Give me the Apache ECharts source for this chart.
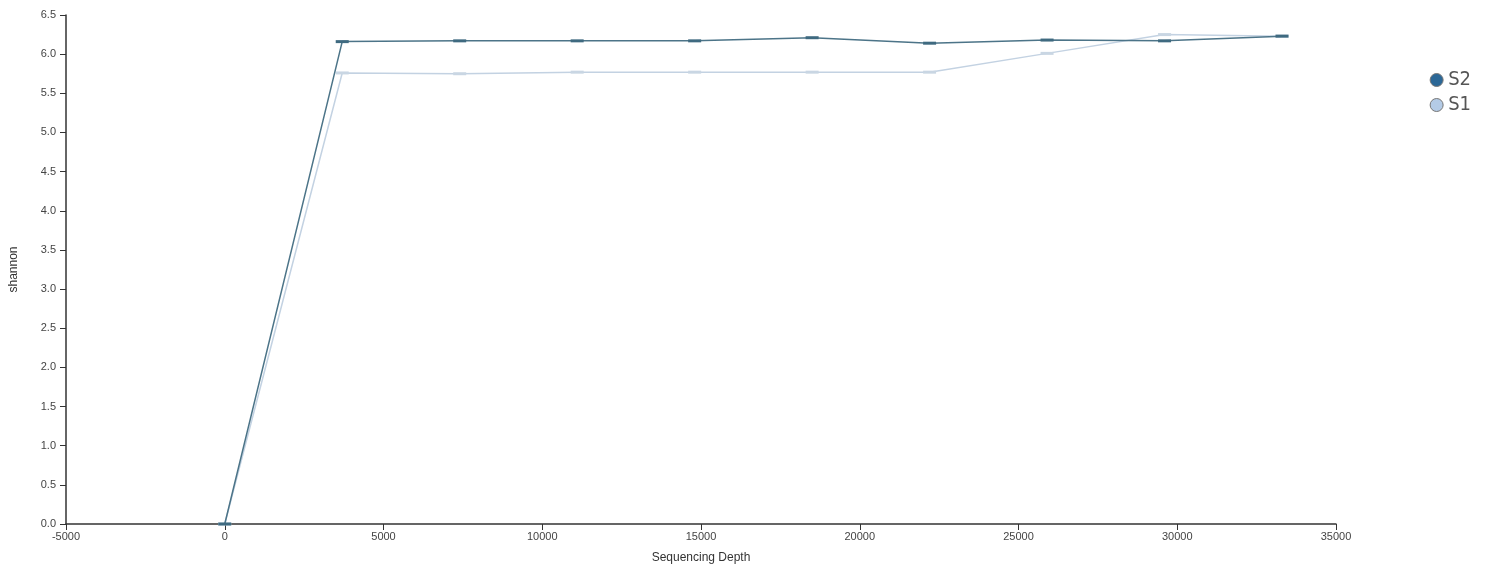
<!DOCTYPE html>
<html>
<head>
<meta charset="utf-8">
<script src="https://cdn.jsdelivr.net/npm/echarts@6/dist/echarts.min.js"></script>
<style>
  html, body { margin: 0; padding: 0; background: #fff; }
  #chart { width: 1488px; height: 572px; }
</style>
</head>
<body>
<div id="chart"></div>
<script>
// Rarefaction depths (reads) and Shannon index per sample
const depths = [0, 3700, 7400, 11100, 14800, 18500, 22200, 25900, 29600, 33300];
const shannonS2 = [0, 6.16, 6.17, 6.17, 6.17, 6.21, 6.14, 6.18, 6.17, 6.23];
const shannonS1 = [0, 5.76, 5.75, 5.77, 5.77, 5.77, 5.77, 6.01, 6.25, 6.23];
const sampleNames = ['S2', 'S1'];
const xTicks = { min: -5000, max: 35000, interval: 5000 };
const yTicks = { min: 0, max: 6.5, interval: 0.5 };

const pairs = (ys) => depths.map((d, i) => [d, ys[i]]);

const chart = echarts.init(document.getElementById('chart'), null, { renderer: 'canvas' });

const axisStyle = { onZero: false, lineStyle: { color: '#333', width: 1.5 } };
const labelFont = { fontFamily: 'Liberation Sans, Arial, sans-serif', fontSize: 11, color: '#444' };

chart.setOption({
  animation: false,
  backgroundColor: '#fff',
  grid: { left: 64, right: 152, top: 15, bottom: 48 },
  legend: {
    orient: 'vertical',
    right: 12,
    top: 65,
    itemGap: 5,
    itemWidth: 13,
    itemHeight: 13,
    icon: 'circle',
    textStyle: { fontFamily: 'Liberation Sans Narrow, DejaVu Sans Condensed, sans-serif', fontSize: 20, color: '#555' },
    data: [
      { name: sampleNames[0], itemStyle: { color: '#2c6897', borderColor: '#777', borderWidth: 1 } },
      { name: sampleNames[1], itemStyle: { color: '#b4cbe6', borderColor: '#777', borderWidth: 1 } }
    ]
  },
  xAxis: {
    type: 'value',
    min: xTicks.min, max: xTicks.max, interval: xTicks.interval,
    name: 'Sequencing Depth',
    nameLocation: 'middle',
    nameGap: 28,
    nameTextStyle: { fontFamily: 'Liberation Sans, Arial, sans-serif', fontSize: 12, color: '#333' },
    axisLine: axisStyle,
    axisTick: { show: true, length: 6, lineStyle: { color: '#333' } },
    axisLabel: Object.assign({ margin: 7, formatter: (v) => String(v) }, labelFont),
    splitLine: { show: false }
  },
  yAxis: {
    type: 'value',
    min: yTicks.min, max: yTicks.max, interval: yTicks.interval,
    name: 'shannon',
    nameLocation: 'middle',
    nameGap: 46,
    nameTextStyle: { fontFamily: 'Liberation Sans, Arial, sans-serif', fontSize: 12, color: '#333' },
    axisLine: axisStyle,
    axisTick: { show: true, length: 6, lineStyle: { color: '#333' } },
    axisLabel: Object.assign({ margin: 10, formatter: (v) => v.toFixed(1) }, labelFont),
    splitLine: { show: false }
  },
  series: [
    {
      name: sampleNames[1],
      type: 'line',
      data: pairs(shannonS1),
      symbol: 'rect',
      symbolSize: [13, 3],
      showSymbol: true,
      lineStyle: { color: '#c3d2e2', width: 1.5 },
      itemStyle: { color: '#c9d6e3' },
      z: 2
    },
    {
      name: sampleNames[0],
      type: 'line',
      data: pairs(shannonS2),
      symbol: 'rect',
      symbolSize: [13, 3],
      showSymbol: true,
      lineStyle: { color: '#4c7488', width: 1.5 },
      itemStyle: { color: '#3f6a80' },
      z: 3
    }
  ]
});
</script>
</body>
</html>
